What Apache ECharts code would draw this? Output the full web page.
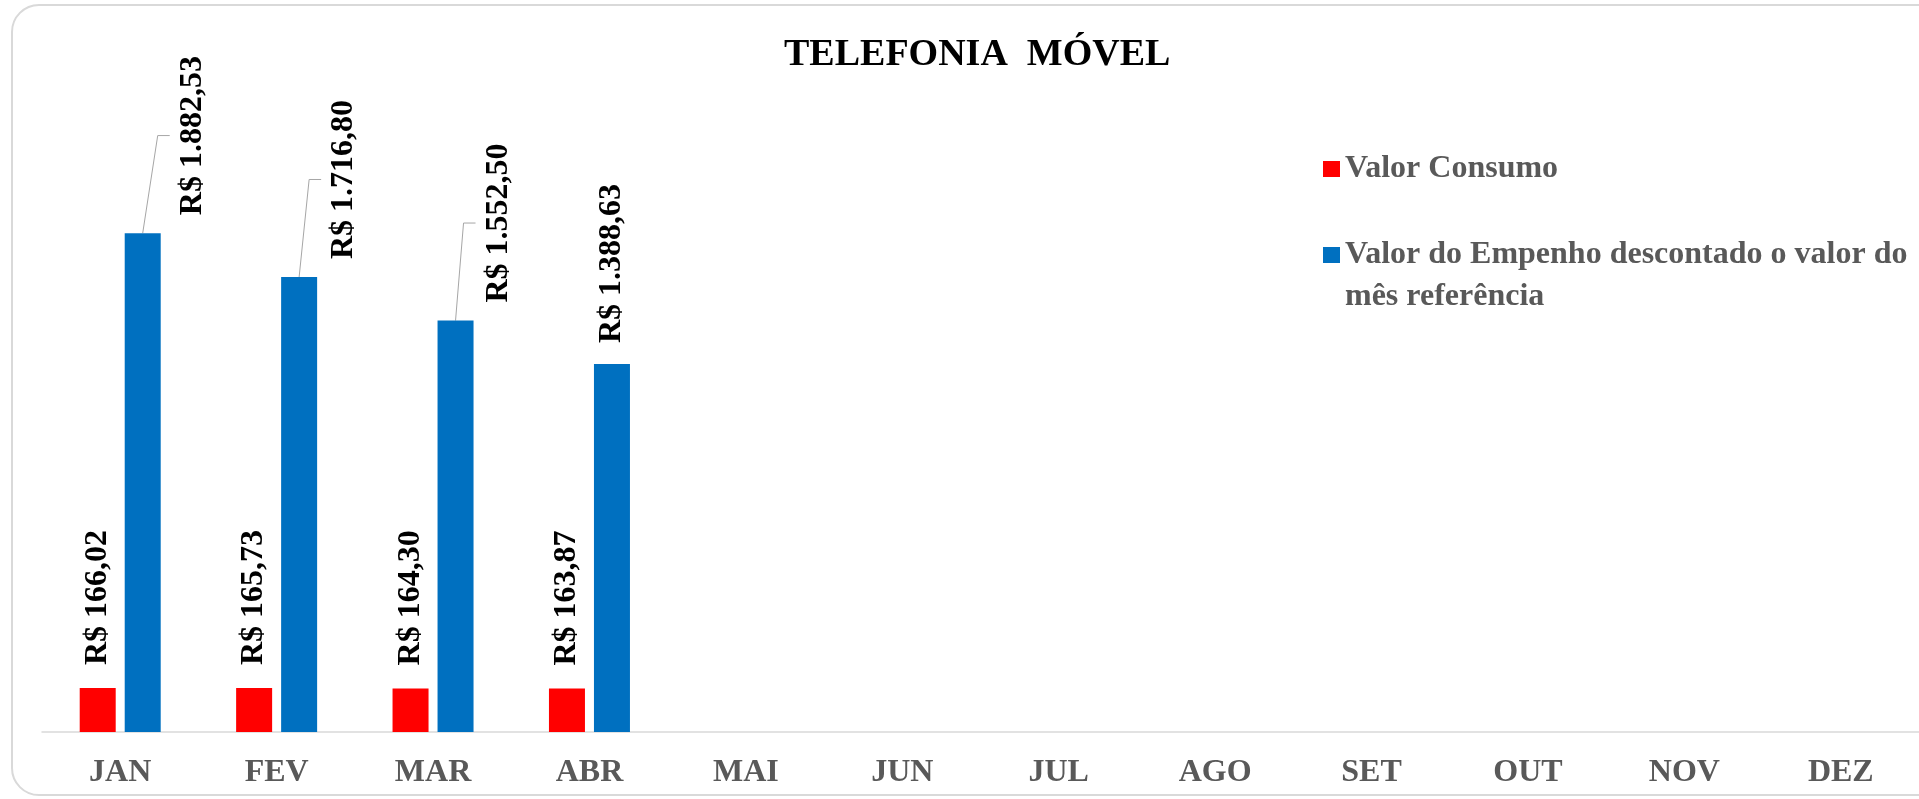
<!DOCTYPE html>
<html lang="pt-BR">
<head>
<meta charset="utf-8">
<title>Telefonia Móvel</title>
<script src="https://cdn.jsdelivr.net/npm/echarts@6/dist/echarts.min.js"></script>
<style>
  html, body { margin: 0; padding: 0; background: #ffffff; overflow: hidden; }
  #chart { width: 1919px; height: 799px; }
</style>
</head>
<body>
<div id="chart"></div>
<script>
// Meses do ano (eixo de categorias)
const months = ['JAN', 'FEV', 'MAR', 'ABR', 'MAI', 'JUN', 'JUL', 'AGO', 'SET', 'OUT', 'NOV', 'DEZ'];

// Valor consumido em cada mês (R$)
const consumo = [166.02, 165.73, 164.30, 163.87, null, null, null, null, null, null, null, null];

// Valor do empenho já descontado o consumo do mês (R$)
const empenho = [1882.53, 1716.80, 1552.50, 1388.63, null, null, null, null, null, null, null, null];

// Meses cujo rótulo do empenho foi afastado da barra e ligado por linha guia
const leaderMonths = [0, 1, 2];
// Afastamento horizontal (px) de cada um desses rótulos
const leaderShift = [50, 45, 43];

const NAME_CONSUMO = 'Valor Consumo';
const NAME_EMPENHO = 'Valor do Empenho descontado o valor do mês referência';

const FONT = "'Liberation Serif', 'Times New Roman', serif";
const LABEL_SIZE = 32;
const BAR_W = 36;
const BAR_GAP = 0.25;                         // fração da largura da barra
const BAR_OFFSET = BAR_W * (1 + BAR_GAP) / 2; // centro da barra azul em relação à categoria
const EMPENHO_DIST = 21;                       // distância do rótulo ao topo da barra
const SHIFT_DOWN = 3;
const LEADER_GAP = 7;
const LEADER_TAIL = 12;

function brl(v) {
  const parts = v.toFixed(2).split('.');
  const int = parts[0].replace(/\B(?=(\d{3})+(?!\d))/g, '.');
  return 'R$ ' + int + ',' + parts[1];
}

const measureCtx = document.createElement('canvas').getContext('2d');
function textWidth(str) {
  measureCtx.font = 'bold ' + LABEL_SIZE + 'px ' + FONT;
  return measureCtx.measureText(str).width;
}

function shiftOf(dataIndex) {
  const k = leaderMonths.indexOf(dataIndex);
  return k >= 0 ? leaderShift[k] : 0;
}

const chart = echarts.init(document.getElementById('chart'), null, { renderer: 'canvas' });

const valueLabel = {
  show: true,
  position: 'top',
  rotate: 90,
  align: 'left',
  verticalAlign: 'middle',
  fontFamily: FONT,
  fontWeight: 'bold',
  fontSize: LABEL_SIZE,
  color: '#000000',
  formatter: function (p) { return brl(p.value); }
};

chart.setOption({
  animation: false,
  backgroundColor: '#ffffff',
  graphic: [{
    type: 'rect',
    silent: true,
    z: -10,
    shape: { x: 12, y: 5, width: 1960, height: 790, r: 27 },
    style: { fill: '#ffffff', stroke: '#d9d9d9', lineWidth: 2 }
  }],
  title: {
    text: 'TELEFONIA  MÓVEL',
    left: 784,
    top: 36,
    padding: 0,
    textStyle: { fontFamily: FONT, fontWeight: 'bold', fontSize: 38, color: '#000000' }
  },
  legend: {
    orient: 'vertical',
    left: 1323,
    top: 148,
    padding: 0,
    itemGap: 2,
    itemWidth: 17,
    itemHeight: 16,
    icon: 'rect',
    data: [NAME_CONSUMO, NAME_EMPENHO],
    formatter: function (name) {
      if (name === NAME_EMPENHO) {
        return '\nValor do Empenho descontado o valor do\nmês referência';
      }
      return name;
    },
    textStyle: { fontFamily: FONT, fontWeight: 'bold', fontSize: 32, lineHeight: 42, color: '#595959' },
    selectedMode: false
  },
  grid: { left: 42, top: 69.5, width: 1884, height: 662.5 },
  xAxis: {
    type: 'category',
    data: months,
    axisLine: { lineStyle: { color: '#d9d9d9', width: 1.5 } },
    axisTick: { show: false },
    axisLabel: { color: '#595959', fontFamily: FONT, fontWeight: 'bold', fontSize: 32, margin: 25, interval: 0 }
  },
  yAxis: {
    type: 'value',
    min: 0,
    max: 2500,
    show: false,
    splitLine: { show: false }
  },
  series: [
    {
      name: NAME_CONSUMO,
      type: 'bar',
      data: consumo,
      barWidth: BAR_W,
      barGap: (BAR_GAP * 100) + '%',
      itemStyle: { color: '#ff0000' },
      label: Object.assign({}, valueLabel, { distance: 23 })
    },
    {
      name: NAME_EMPENHO,
      type: 'bar',
      data: empenho,
      barWidth: BAR_W,
      barGap: (BAR_GAP * 100) + '%',
      itemStyle: { color: '#0070c0' },
      label: Object.assign({}, valueLabel, { distance: EMPENHO_DIST }),
      // rótulo girado 90°: o deslocamento é dado no sistema do texto
      labelLayout: function (params) {
        const s = shiftOf(params.dataIndex);
        if (s) {
          return { dx: -SHIFT_DOWN, dy: s };
        }
        return {};
      }
    },
    {
      // linhas guia dos rótulos afastados
      name: 'guias',
      type: 'custom',
      silent: true,
      z: 1,
      data: leaderMonths.map(function (i) { return [i, empenho[i]]; }),
      encode: { x: 0, y: 1 },
      renderItem: function (params, api) {
        const i = api.value(0);
        const v = api.value(1);
        const top = api.coord([i, v]);
        const x0 = top[0] + BAR_OFFSET;
        const y0 = top[1];
        const ax = x0 + shiftOf(i);
        const ay = y0 - EMPENHO_DIST + SHIFT_DOWN;
        const midY = ay - textWidth(brl(v)) / 2;
        const xEnd = ax - LABEL_SIZE / 2 - LEADER_GAP;
        return {
          type: 'polyline',
          shape: { points: [[x0, y0], [xEnd - LEADER_TAIL, midY], [xEnd, midY]] },
          style: { stroke: '#a6a6a6', lineWidth: 1, fill: null }
        };
      }
    }
  ]
});
</script>
</body>
</html>
